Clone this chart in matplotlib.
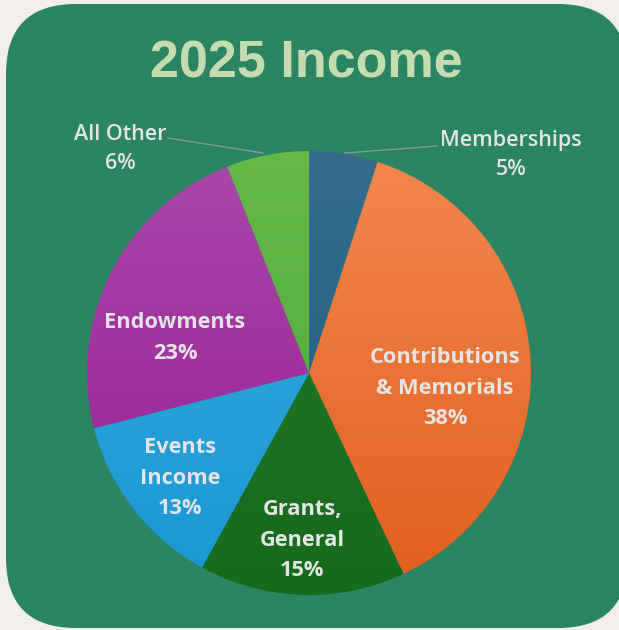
import matplotlib.pyplot as plt
import numpy as np
from matplotlib.patches import FancyBboxPatch
from matplotlib.colors import LinearSegmentedColormap

# données du graphique
categories = ["Memberships", "Contributions\n& Memorials", "Grants,\nGeneral",
              "Events\nIncome", "Endowments", "All Other"]
valeurs = [5, 38, 15, 13, 23, 6]
titre = "2025 Income"

# couleurs (haut clair -> bas foncé)
couleursHaut = ["#356d8d", "#f2874f", "#237a2a", "#3aaae0", "#aa48aa", "#64b948"]
couleursBas = ["#1a5e7e", "#e25f1c", "#166a1c", "#1898d4", "#981c94", "#4ea63a"]

# positions des étiquettes (pixels image, y vers le bas)
posLabels = [(511, 155), (445, 388), (302, 540), (180, 478), (175, 338), (120, 149)]
lignes = [[(437, 146), (345, 153)], None, None, None, None, [(168, 138), (263, 153)]]

W, H = 619, 630
fig = plt.figure(figsize=(W / 100, H / 100), dpi=100)
fig.patch.set_facecolor("#f2efea")
ax = fig.add_axes([0, 0, 1, 1])
ax.set_axis_off()

# cadre vert arrondi
cadre = FancyBboxPatch((6, 630 - 628), 622, 624, boxstyle="round,pad=0,rounding_size=70",
                       facecolor="#2b8562", edgecolor="none", zorder=0)
ax.add_patch(cadre)

cx, cy, r = 309, 630 - 373, 222
wedges, _ = ax.pie(valeurs, startangle=90, counterclock=False, center=(cx, cy), radius=r,
                   wedgeprops=dict(linewidth=0, edgecolor="none"))

grad = np.linspace(0, 1, 256).reshape(-1, 1)
for i, w in enumerate(wedges):
    w.set_facecolor("none")
    cmap = LinearSegmentedColormap.from_list("g%d" % i, [couleursBas[i], couleursHaut[i]])
    im = ax.imshow(grad, extent=[cx - r, cx + r, cy - r, cy + r], origin="lower",
                   cmap=cmap, aspect="auto", zorder=1)
    im.set_clip_path(w)

for i, (x, y) in enumerate(posLabels):
    pct = "%d%%" % valeurs[i]
    externe = lignes[i] is not None
    ax.text(x, 630 - y, categories[i] + "\n" + pct, ha="center", va="center",
            color="#e4e4e4", fontsize=15.7 if not externe else 15.5,
            fontweight="bold" if not externe else "semibold",
            family=["Open Sans", "DejaVu Sans"], linespacing=1.6 if not externe else 1.45,
            zorder=3)
    if externe:
        (x1, y1), (x2, y2) = lignes[i]
        ax.plot([x1, x2], [630 - y1, 630 - y2], color="#8c9a92", lw=1, zorder=3)

ax.text(306, 630 - 64, titre, ha="center", va="center", color="#c5dcb0",
        fontsize=37.5, fontweight="bold", family="Liberation Sans", zorder=3)

ax.set_xlim(0, W)
ax.set_ylim(0, H)
ax.set_aspect("auto")
fig.savefig("out.png", dpi=100, facecolor=fig.get_facecolor())
